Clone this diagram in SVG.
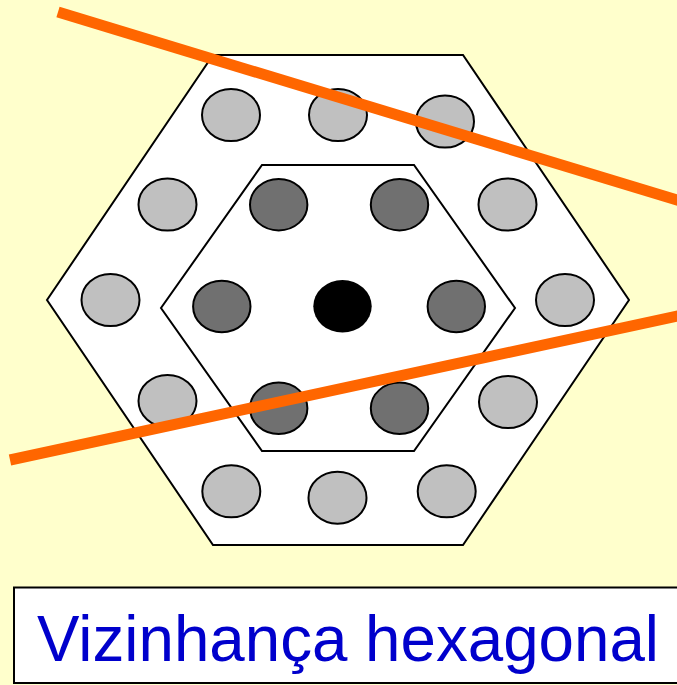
<svg xmlns="http://www.w3.org/2000/svg" width="677" height="685" viewBox="0 0 677 685">
<style>
.hex{fill:#FFFFFF;stroke:#000000;stroke-width:2;stroke-linejoin:miter}
.l{fill:#C0C0C0;stroke:#000000;stroke-width:2}
.d{fill:#707070;stroke:#000000;stroke-width:2}
.c{fill:#000000}
.cut{stroke:#FF6600;stroke-width:11;fill:none}
.lbl{font-family:"Liberation Sans",Arial,sans-serif;font-size:65px;fill:#0000CC}
</style>
<rect x="0" y="0" width="677" height="685" fill="#FFFFCC"/>
<g id="outer-hexagon"><polygon class="hex" points="213,55 463,55 629,300 463,545 213,545 47,300"/></g>
<g id="inner-hexagon"><polygon class="hex" points="262,165 414,165 515,308 414,451 262,451 161,308"/></g>
<g id="outer-ring">
<ellipse class="l" cx="231" cy="115" rx="29" ry="26"/>
<ellipse class="l" cx="338" cy="115" rx="29" ry="26"/>
<ellipse class="l" cx="445" cy="121.5" rx="29" ry="26"/>
<ellipse class="l" cx="167.5" cy="204.5" rx="29" ry="26"/>
<ellipse class="l" cx="507.5" cy="204.5" rx="29" ry="26"/>
<ellipse class="l" cx="110.5" cy="300" rx="29" ry="26"/>
<ellipse class="l" cx="565" cy="300" rx="29" ry="26"/>
<ellipse class="l" cx="167.5" cy="401" rx="29" ry="26"/>
<ellipse class="l" cx="508" cy="402" rx="29" ry="26"/>
<ellipse class="l" cx="231.3" cy="491.3" rx="29" ry="26"/>
<ellipse class="l" cx="337.5" cy="497.7" rx="29" ry="26"/>
<ellipse class="l" cx="446.7" cy="491.3" rx="29" ry="26"/>
</g>
<g id="inner-ring">
<ellipse class="d" cx="278.7" cy="204.7" rx="28.7" ry="25.7"/>
<ellipse class="d" cx="399.5" cy="204.7" rx="28.7" ry="25.7"/>
<ellipse class="d" cx="221.8" cy="306.5" rx="28.7" ry="25.7"/>
<ellipse class="d" cx="456.3" cy="306.5" rx="28.7" ry="25.7"/>
<ellipse class="d" cx="278.7" cy="408.3" rx="28.7" ry="25.7"/>
<ellipse class="d" cx="399.5" cy="408.3" rx="28.7" ry="25.7"/>
</g>
<g id="center"><ellipse class="c" cx="342.5" cy="306.3" rx="29.2" ry="26.3"/></g>
<g id="connectors">
<line class="cut" x1="58" y1="12" x2="680" y2="201"/>
<line class="cut" x1="10" y1="460" x2="680" y2="315.5"/>
</g>
<g id="caption">
<rect x="14" y="587.5" width="680" height="95.5" fill="#FFFFFF" stroke="#000000" stroke-width="2"/>
<text class="lbl" x="37" y="660.5" textLength="622" lengthAdjust="spacingAndGlyphs">Vizinhança hexagonal</text>
</g>
</svg>
